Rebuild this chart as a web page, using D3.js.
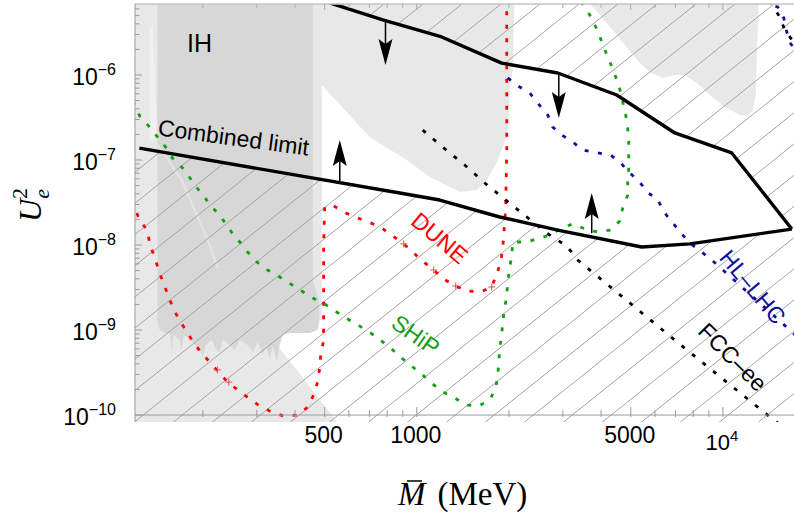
<!DOCTYPE html>
<html>
<head>
<meta charset="utf-8">
<script src="https://cdnjs.cloudflare.com/ajax/libs/d3/7.8.5/d3.min.js"></script>
<style>
  body { margin: 0; background: #fff; }
  svg { display: block; }
  text { font-family: "Liberation Sans", Arial, sans-serif; }
</style>
</head>
<body>
<svg id="chart" width="794" height="517"></svg>
<script>
// ---- data (mass in MeV, U_e^2) ----
var massRange = [120, 20000];
var u2Range = [8.28e-11, 6.84e-6];

var xMajorTicks = [500, 1000, 5000, 10000];
var xMajorLabels = ["500", "1000", "5000", "10^4"];
var xMinorTicks = [200, 300, 400, 600, 700, 800, 900, 2000, 3000, 4000, 6000, 7000, 8000, 9000, 20000];
var yMajorTicks = [1e-10, 1e-9, 1e-8, 1e-7, 1e-6];
var yMajorExp = ["-10", "-9", "-8", "-7", "-6"];

var lowerLimit = [[124, 1.38e-7], [880, 4.09e-8], [1188, 3.38e-8], [1866, 2.135e-8], [2888, 1.5e-8],
  [5431, 9.47e-9], [7797, 1.03e-8], [16795, 1.54e-8]];
var upperLimit = [[474, 7.83e-6], [774, 4.44e-6], [1206, 2.8e-6], [1894, 1.38e-6], [2888, 1.055e-6],
  [4500, 5.82e-7], [6964, 2.08e-7], [10693, 1.21e-7], [16795, 1.54e-8]];

var lightRegionLeft = [[100, 1e-5], [2089, 1e-5], [2058, 1.145e-6], [2012, 6.14e-7], [1981, 2.08e-7],
  [1894, 1.31e-7], [1825, 9.22e-8], [1692, 5.82e-8], [1569, 4.44e-8], [1381, 4.2e-8], [1102, 6.31e-8],
  [927, 1e-7], [701, 1.87e-7], [489, 7.63e-7], [489, 1.31e-9], [311, 1.145e-9], [560, 7.6e-11], [100, 7.6e-11]];
var lightRegionRight = [[3672, 1e-5], [3672, 6.84e-6], [3959, 5.08e-6], [4367, 3.38e-6], [4779, 2.25e-6],
  [5350, 1.38e-6], [5768, 1.085e-6], [6362, 9.22e-7], [6964, 1e-6], [7508, 1e-6], [8217, 8.05e-7],
  [9063, 5.82e-7], [10144, 4.2e-7], [11355, 3.38e-7], [12058, 3.29e-7], [12519, 3.88e-7], [12806, 5.82e-7],
  [12904, 1.5e-6], [13100, 6.84e-6], [13100, 1e-5]];
var lightStreak = [[134, 3.64e-6], [137, 3.64e-6], [142, 1.72e-7], [134, 1.72e-7]];
var lightSeam = [[120, 2.58e-7], [134, 1.97e-7], [150, 1.145e-7], [170.5, 5.82e-8], [188, 2.58e-8],
  [210.5, 1e-8], [223.6, 5.36e-9]];
var ihRegion = [[142, 1e-5], [142, 1.31e-9], [144.5, 1e-9], [150, 9.22e-10], [156, 9.22e-10], [158, 5.82e-10],
  [160.6, 8.73e-10], [168, 7.63e-10], [170.5, 5.51e-10], [173, 8.5e-10], [181, 8.05e-10], [188, 6.66e-10],
  [195, 5.82e-10], [200, 4.81e-10], [204, 6.66e-10], [214, 7.63e-10], [222, 5.82e-10], [227, 5.51e-10],
  [232, 7.63e-10], [245, 6.66e-10], [254, 5.82e-10], [264, 7.63e-10], [280, 6.66e-10], [291, 5.51e-10],
  [302, 7.23e-10], [314, 5.08e-10], [321, 6.66e-10], [331, 4.44e-10], [338, 6.66e-10], [349, 4.2e-10],
  [356, 6.66e-10], [365, 8.73e-10], [384, 9.22e-10], [414, 9.22e-10], [447, 9.22e-10], [474, 1e-9],
  [481, 1.31e-9], [478, 2.25e-9], [457, 3.88e-9], [457, 1e-5]];

var dune = [[121.6, 2.38e-8], [124.3, 1.97e-8], [132, 1.46e-8], [134, 1.03e-8], [139, 7.23e-9], [143, 5.22e-9],
  [148, 3.67e-9], [153.5, 2.65e-9], [159, 1.87e-9], [166.7, 1.35e-9], [175.7, 1e-9], [185, 7.42e-10],
  [196.7, 5.51e-10], [210.5, 4.2e-10], [225, 3.2e-10], [241, 2.44e-10], [260, 1.97e-10], [282, 1.585e-10],
  [306.6, 1.28e-10], [335.5, 1.085e-10], [367, 9.73e-11], [408, 1e-10], [440, 1.24e-10], [460, 1.72e-10],
  [474, 2.44e-10], [481, 3.48e-10], [485, 4.94e-10], [494, 7.03e-10], [496, 1.03e-9], [496, 1e-8],
  [500, 2.8e-8], [535, 2.88e-8], [586, 2.38e-8], [641, 2.08e-8], [707, 1.82e-8], [768, 1.585e-8],
  [834, 1.28e-8], [906, 1.03e-8], [977, 8.05e-9], [1053, 6.31e-9], [1135, 5.08e-9], [1224, 3.98e-9],
  [1340, 3.3e-9], [1456, 2.88e-9], [1617, 2.8e-9], [1757, 3.21e-9], [1825, 4.56e-9], [1880, 6.31e-9],
  [1908, 9.22e-9], [1923, 1.31e-8], [1937, 1.87e-8], [1952, 2.72e-8], [1967, 1.31e-7], [1967, 1e-5]];
var duneCrosses = [[223, 3.4e-10], [243, 2.44e-10], [906, 1.03e-8], [1135, 5.08e-9], [1340, 3.3e-9], [1757, 3.21e-9]];

var ship = [[118, 4.9e-7], [124.3, 3.29e-7], [134, 2.44e-7], [142, 1.87e-7], [151, 1.42e-7], [159, 1.055e-7],
  [173, 7.83e-8], [182.4, 5.98e-8], [193.7, 4.44e-8], [205.8, 3.38e-8], [220.2, 2.51e-8], [234, 1.92e-8],
  [248, 1.42e-8], [264, 1.085e-8], [280, 8.27e-9], [300, 6.31e-9], [325.6, 5.08e-9], [356.5, 4.2e-9],
  [387, 3.48e-9], [420.6, 2.88e-9], [457, 2.38e-9], [500, 2.02e-9], [547, 1.63e-9], [594.5, 1.35e-9],
  [651, 1.11e-9], [707, 9.22e-10], [768, 7.42e-10], [828, 5.98e-10], [893, 4.68e-10], [970, 3.67e-10],
  [1045, 2.96e-10], [1127, 2.32e-10], [1215, 1.87e-10], [1330, 1.585e-10], [1456, 1.31e-10], [1593, 1.28e-10],
  [1731, 1.5e-10], [1811, 2.08e-10], [1839, 2.96e-10], [1852, 4.2e-10], [1866, 6.14e-10], [1894, 8.73e-10],
  [1908, 1.24e-9], [1937, 1.81e-9], [1967, 2.58e-9], [1981, 3.67e-9], [2012, 5.36e-9], [2043, 7.63e-9],
  [2058, 1.085e-8], [2286, 1.085e-8], [2719, 1.31e-8], [2976, 1.585e-8], [3232, 1.77e-8], [3563, 1.54e-8],
  [3901, 1.42e-8], [4301, 1.5e-8], [4603, 1.92e-8], [4707, 2.72e-8], [4887, 3.88e-8], [4887, 5.51e-8],
  [4925, 8.05e-8], [4925, 1.145e-7], [4925, 1.63e-7], [4887, 2.38e-7], [4815, 3.38e-7], [4707, 4.81e-7],
  [4603, 6.84e-7], [4467, 9.47e-7], [4301, 1.35e-6], [4143, 1.87e-6], [3989, 2.65e-6], [3842, 3.67e-6],
  [3672, 5.08e-6], [3484, 6.84e-6], [3407, 8.05e-6]];

var fccLower = [[1045, 2.25e-7], [1215, 1.42e-7], [1434, 8.73e-8], [1667, 5.36e-8], [1952, 3.38e-8],
  [2269, 2.19e-8], [2658, 1.38e-8], [3089, 9.73e-9], [3355, 6.66e-9], [4925, 2.135e-9], [7285, 6.66e-10],
  [10773, 2.14e-10], [14665, 8.73e-11], [17000, 6e-11]];
var fccUpper = [[14300, 7.5e-6], [14556, 6.49e-6], [15343, 4.81e-6], [15935, 3.38e-6], [16920, 2.51e-6], [18000, 2e-6]];

var lhcLower = [[1981, 9.22e-7], [2169, 7.23e-7], [2338, 6.14e-7], [2483, 4.68e-7], [2678, 3.38e-7],
  [2781, 2.44e-7], [2976, 1.97e-7], [3232, 1.63e-7], [3484, 1.31e-7], [3901, 1.21e-7], [4301, 1.145e-7],
  [4637, 9.22e-8], [4925, 7.23e-8], [5350, 5.51e-8], [5682, 4.09e-8], [6081, 3.57e-8], [6458, 2.38e-8],
  [6860, 1.82e-8], [7339, 1.35e-8], [7797, 1.056e-8], [8531, 8.27e-9], [9200, 6.66e-9], [11527, 3.21e-9],
  [16544, 1e-9], [18000, 7.6e-10]];
var lhcUpper = [[13600, 7.5e-6], [13911, 6.84e-6], [15111, 6.31e-6], [15811, 4.68e-6], [16174, 3.21e-6],
  [16670, 2.32e-6], [18000, 1.6e-6]];

var arrowMass = [790, 2910, 560, 3728];
var arrowFrom = [4.3e-6, 1.055e-6, 5.51e-8, 1.38e-8];
var arrowTo = [1.31e-6, 3.12e-7, 1.72e-7, 4.09e-8];

var labelText = ["IH", "Combined limit", "DUNE", "SHiP", "FCC\u2013ee", "HL\u2013LHC"];
var labelPos = [[195, 2.38e-6], [252, 1.84e-7], [1188, 1.21e-8], [992, 8.73e-10], [10773, 4.8e-10], [12519, 3.21e-9]];
var labelAngle = [0, 7.6, 40, 35, 45, 50];
var labelColor = ["#000", "#000", "#ff0000", "#13a013", "#000", "#10109a"];

// ---- drawing ----
var svg = d3.select("#chart");
var defs = svg.append("defs");

var x = d3.scaleLog().domain(massRange).range([135, 815]);
var y = d3.scaleLog().domain(u2Range).range([422, 4]);
var line = d3.line().x(function (d) { return x(d[0]); }).y(function (d) { return y(d[1]); });

var plotL = 135, plotR = 815, plotT = 4, plotB = 422;

defs.append("clipPath").attr("id", "plotClip")
  .append("rect").attr("x", plotL).attr("y", plotT).attr("width", plotR - plotL).attr("height", plotB - plotT);

var allowed = lowerLimit.concat(upperLimit.slice().reverse(), [[100, 1e-5], [100, 1.45e-7]]);
defs.append("clipPath").attr("id", "hatchClip")
  .append("path")
  .attr("clip-rule", "evenodd")
  .attr("d", "M" + plotL + "," + plotT + "H" + plotR + "V" + plotB + "H" + plotL + "Z" + line(allowed) + "Z");

defs.append("clipPath").attr("id", "ihClip")
  .append("path").attr("d", line(ihRegion) + "Z");

var plot = svg.append("g").attr("clip-path", "url(#plotClip)");

plot.append("path").attr("d", line(lightRegionLeft) + "Z").attr("fill", "#e8e8e8");
plot.append("path").attr("d", line(lightRegionRight) + "Z").attr("fill", "#e8e8e8");
plot.append("path").attr("d", line(lightStreak) + "Z").attr("fill", "#f1f1f1");
plot.append("path").attr("d", line(ihRegion) + "Z").attr("fill", "#d7d7d7");
plot.append("g").attr("clip-path", "url(#ihClip)")
  .append("path").attr("d", line(lightSeam))
  .attr("fill", "none").attr("stroke", "#e3e3e3").attr("stroke-width", 2.2);

// hatching outside the allowed band
var hatch = plot.append("g").attr("clip-path", "url(#hatchClip)");
var slope = 0.8, spacing = 39;
hatch.selectAll("line").data(d3.range(-14, 19)).enter().append("line")
  .attr("x1", function (k) { return 124.5 + spacing * k; })
  .attr("y1", 430)
  .attr("x2", function (k) { return 124.5 + spacing * k + 440 / slope; })
  .attr("y2", -10)
  .attr("stroke", "#a4a4a4")
  .attr("stroke-width", 1);

function dotted(data, color) {
  plot.append("path").attr("d", line(data))
    .attr("fill", "none")
    .attr("stroke", color)
    .attr("stroke-width", 2.8)
    .attr("stroke-dasharray", "4,9.5");
}
dotted(dune, "#ff0000");
dotted(ship, "#13a013");
dotted(fccLower, "#000");
dotted(fccUpper, "#000");
dotted(lhcLower, "#10109a");
dotted(lhcUpper, "#10109a");

plot.selectAll(".cross").data(duneCrosses).enter().append("path")
  .attr("class", "cross")
  .attr("d", function (d) {
    var cx = x(d[0]), cy = y(d[1]);
    return "M" + (cx - 3.5) + "," + cy + "H" + (cx + 3.5) + "M" + cx + "," + (cy - 3.5) + "V" + (cy + 3.5);
  })
  .attr("stroke", "#e05050").attr("stroke-width", 1);

plot.append("path").attr("d", line(lowerLimit)).attr("fill", "none").attr("stroke", "#000").attr("stroke-width", 3.4).attr("stroke-linejoin", "round");
plot.append("path").attr("d", line(upperLimit)).attr("fill", "none").attr("stroke", "#000").attr("stroke-width", 3.4).attr("stroke-linejoin", "round");

// arrows
arrowMass.forEach(function (m, i) {
  var px = x(m), y0 = y(arrowFrom[i]), tip = y(arrowTo[i]);
  var dir = tip > y0 ? 1 : -1;
  plot.append("line").attr("x1", px).attr("x2", px).attr("y1", y0).attr("y2", tip - dir * 18)
    .attr("stroke", "#000").attr("stroke-width", 1.5);
  plot.append("path")
    .attr("d", "M" + px + "," + tip + "L" + (px - 7) + "," + (tip - dir * 26) + "L" + px + "," + (tip - dir * 21) +
      "L" + (px + 7) + "," + (tip - dir * 26) + "Z")
    .attr("fill", "#000");
});

// axes
var axisColor = "#9a9a9a";
var y10 = y(1e-10);
svg.append("line").attr("x1", plotL).attr("x2", 794).attr("y1", y10).attr("y2", y10).attr("stroke", axisColor);
svg.append("line").attr("x1", plotL).attr("x2", 794).attr("y1", plotT).attr("y2", plotT).attr("stroke", "#c4c4c4").attr("stroke-width", 1.5);
svg.append("line").attr("x1", plotL).attr("x2", plotL).attr("y1", plotT).attr("y2", plotB).attr("stroke", axisColor);

xMajorTicks.concat(xMinorTicks).forEach(function (t, i) {
  var major = i < xMajorTicks.length;
  var px = x(t);
  svg.append("line").attr("x1", px).attr("x2", px).attr("y1", y10 - (major ? 8 : 5)).attr("y2", y10 + 2).attr("stroke", axisColor);
  svg.append("line").attr("x1", px).attr("x2", px).attr("y1", plotT).attr("y2", plotT + (major ? 6 : 4)).attr("stroke", "#aaa");
});

var yMinor = [];
[1e-10, 1e-9, 1e-8, 1e-7, 1e-6].forEach(function (d) {
  for (var k = 2; k <= 9; k++) if (d * k < u2Range[1]) yMinor.push(d * k);
});
yMajorTicks.forEach(function (t) {
  svg.append("line").attr("x1", plotL).attr("x2", plotL + 7).attr("y1", y(t)).attr("y2", y(t)).attr("stroke", axisColor);
});
yMinor.forEach(function (t) {
  svg.append("line").attr("x1", plotL).attr("x2", plotL + 4.5).attr("y1", y(t)).attr("y2", y(t)).attr("stroke", axisColor);
});

xMajorTicks.forEach(function (t, i) {
  var lab = xMajorLabels[i];
  if (lab.indexOf("^") < 0) {
    svg.append("text").attr("x", x(t) - 1).attr("y", 443).attr("text-anchor", "middle")
      .attr("font-size", 23).text(lab);
  } else {
    var parts = lab.split("^");
    var tx = svg.append("text").attr("x", x(t) - 1).attr("y", 450).attr("text-anchor", "middle").attr("font-size", 22);
    tx.append("tspan").text(parts[0]);
    tx.append("tspan").attr("dy", -9).attr("font-size", 15).text(parts[1]);
  }
});

yMajorTicks.forEach(function (t, i) {
  var tx = svg.append("text").attr("x", 116).attr("y", y(t) + 10).attr("text-anchor", "end").attr("font-size", 23);
  tx.append("tspan").text("10");
  tx.append("tspan").attr("dy", -10).attr("font-size", 16).text(yMajorExp[i].replace("-", "\u2212"));
});

// axis titles
var xt = svg.append("text").attr("x", 398).attr("y", 505)
  .style("font-family", "'Liberation Serif', 'Times New Roman', serif").attr("font-size", 33);
xt.append("tspan").attr("font-style", "italic").text("M");
xt.append("tspan").attr("dx", 12).text("(MeV)");
svg.append("line").attr("x1", 407).attr("x2", 422).attr("y1", 481).attr("y2", 481).attr("stroke", "#000").attr("stroke-width", 1.5);

var yt = svg.append("text").attr("transform", "translate(41,205) rotate(-90)").attr("text-anchor", "middle")
  .style("font-family", "'Liberation Serif', 'Times New Roman', serif").attr("font-size", 32);
yt.append("tspan").attr("font-style", "italic").text("U");
yt.append("tspan").attr("font-style", "italic").attr("font-size", 22).attr("dy", 8).text("e");
yt.append("tspan").attr("font-size", 22).attr("dx", -10).attr("dy", -22).text("2");

// curve labels
labelText.forEach(function (s, i) {
  var px = x(labelPos[i][0]), py = y(labelPos[i][1]);
  svg.append("text")
    .attr("transform", "translate(" + px + "," + py + ") rotate(" + labelAngle[i] + ")")
    .attr("text-anchor", "middle")
    .attr("dominant-baseline", "central")
    .attr("font-size", i === 0 ? 25 : 23)
    .attr("fill", labelColor[i])
    .text(s);
});
</script>
</body>
</html>
